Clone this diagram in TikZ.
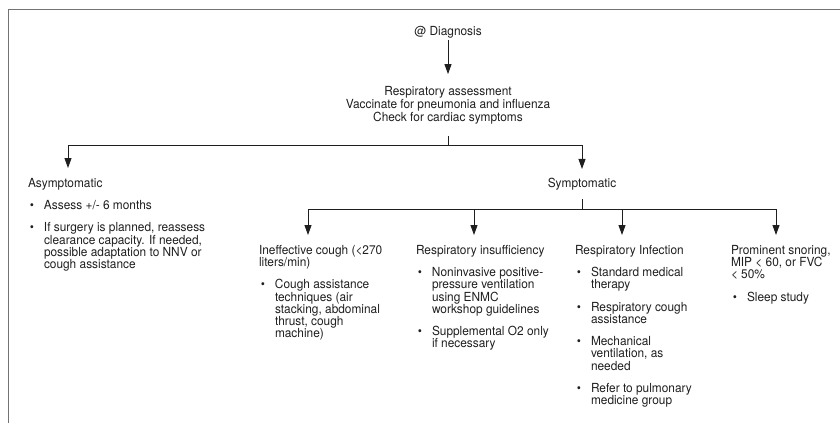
\documentclass[tikz,border=0pt]{standalone}
\usepackage{fontspec}
\setmainfont{TeX Gyre Heros}[FakeStretch=0.95]
\usetikzlibrary{arrows.meta,positioning,calc}
\definecolor{ink}{gray}{0.12}
\definecolor{rim}{gray}{0.45}
\newcommand{\bpt}{\makebox[8pt][c]{\textbullet}\hspace*{8pt}}
\newcommand{\bcont}{\hspace*{16pt}}
\tikzset{
	txt/.style={inner sep=0pt, outer sep=0pt, text=ink, font=\fontsize{12.5}{12.3}\selectfont},
	col/.style={txt, align=left, anchor=north west},
	ln/.style={draw=ink, line width=0.9pt},
	arr/.style={ln, -{Triangle[width=7pt,length=10pt]}}
}

\begin{document}
\begin{tikzpicture}[x=1pt, y=-1pt]
	\useasboundingbox (0,0) rectangle (840,423);
	\draw[rim, line width=1pt] (8,423) |- (840,9);

	\node[txt, inner ysep=2pt] (diag) at (448,32) {@ Diagnosis};
	\node[txt, align=center, inner ysep=12pt, font=\fontsize{12.5}{11}\selectfont] (assess) at (448,105)
		{Respiratory assessment\\Vaccinate for pneumonia and influenza\\Check for cardiac symptoms};
	\draw[arr] (diag) -- (assess);

	\coordinate (j1) at (448,145);
	\coordinate (t0) at (68,168);
	\node[txt, inner ysep=9pt] (sym) at (582,184) {Symptomatic};
	\draw[ln] (assess) -- (j1);
	\draw[arr] (j1) -| (t0);
	\draw[arr] (j1) -| (sym);

	\node[col] (asym) at (28,178) {Asymptomatic\\[10pt]
		\bpt Assess +/- 6 months\\[10pt]
		\bpt If surgery is planned, reassess\\\bcont clearance capacity. If needed,\\\bcont possible adaptation to NNV or\\\bcont cough assistance};

	\coordinate (j2) at (582,209);
	\coordinate (t1) at (308,235);
	\coordinate (t2) at (474,235);
	\coordinate (t3) at (622,235);
	\coordinate (t4) at (776,235);
	\draw[ln] (sym) -- (j2);
	\foreach \t in {t1,t2,t3,t4}
		\draw[arr] (j2) -| (\t);

	\node[col] (ineff) at (259,245) {Ineffective cough (<270\\liters/min)\\[10pt]
		\bpt Cough assistance\\\bcont techniques (air\\\bcont stacking, abdominal\\\bcont thrust, cough\\\bcont machine)};
	\node[col] (insuf) at (416,245) {Respiratory insufficiency\\[10pt]
		\bpt Noninvasive positive-\\\bcont pressure ventilation\\\bcont using ENMC\\\bcont workshop guidelines\\[10pt]
		\bpt Supplemental O2 only\\\bcont if necessary};
	\node[col] (infect) at (575,245) {Respiratory Infection\\[10pt]
		\bpt Standard medical\\\bcont therapy\\[10pt]
		\bpt Respiratory cough\\\bcont assistance\\[10pt]
		\bpt Mechanical\\\bcont ventilation, as\\\bcont needed\\[10pt]
		\bpt Refer to pulmonary\\\bcont medicine group};
	\node[col] (snore) at (731,245) {Prominent snoring,\\MIP < 60, or FVC\\< 50\%\\[10pt]
		\bpt Sleep study};
\end{tikzpicture}
\end{document}
